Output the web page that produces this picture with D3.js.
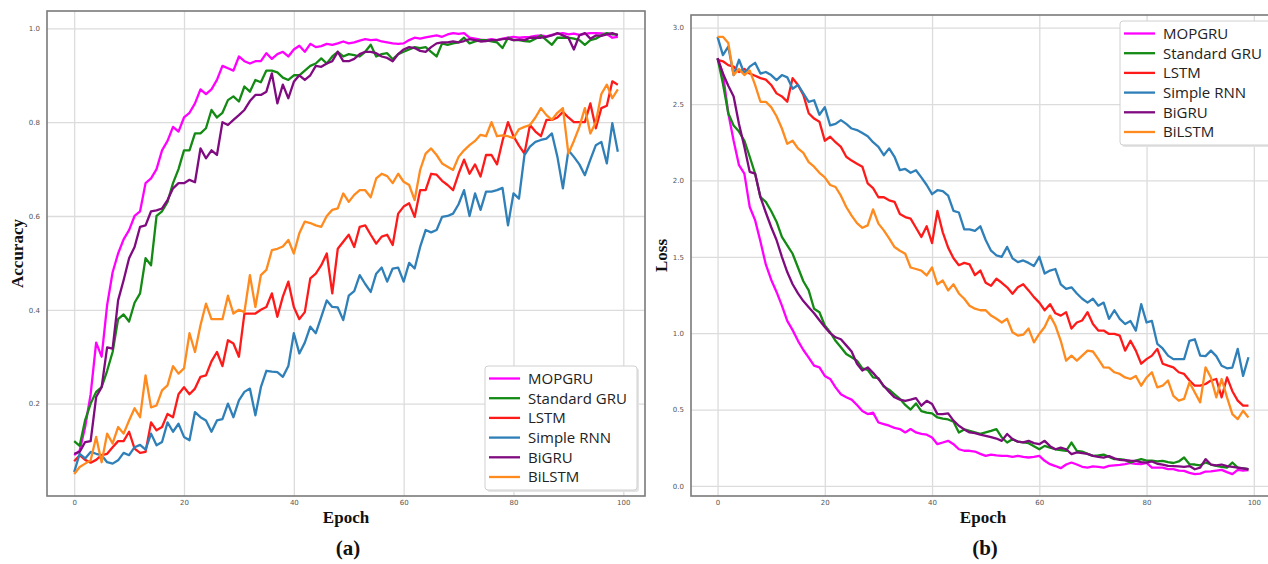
<!DOCTYPE html>
<html>
<head>
<meta charset="utf-8">
<style>
body { margin: 0; background: #fff; }
.grid line { stroke: #dcdcdc; stroke-width: 1.3px; }
.grid path { display: none; }
.ticks path, .ticks line { display: none; }
.ticks text { fill: #555; font-size: 7px; font-family: "DejaVu Sans", sans-serif; }
.frame { fill: none; stroke: #7a7a7a; stroke-width: 1.6px; }
.line { fill: none; stroke-width: 2.3px; stroke-linejoin: round; }
.axis-title { font-family: "Liberation Serif", serif; font-weight: bold; font-size: 17px; fill: #111; }
.panel-label { font-family: "Liberation Serif", serif; font-weight: bold; font-size: 21px; fill: #111; }
.legend-box { fill: #fff; stroke: #d0d0d0; stroke-width: 1px; }
.legend-shadow { fill: #e4e4e4; }
.legend text { font-family: "Open Sans", sans-serif; font-size: 15px; fill: #222; }
</style>
</head>
<body>
<svg width="1268" height="564"></svg>
<script src="https://d3js.org/d3.v7.min.js"></script>
<script>

// model names and colours
var models = ["MOPGRU", "Standard GRU", "LSTM", "Simple RNN", "BiGRU", "BiLSTM"];
var colors = ["#ff00ff", "#138a13", "#ff1a1a", "#2f7fb8", "#800a80", "#ff8a1e"];

var xTicks = [0, 20, 40, 60, 80, 100];
var accTicks = [0.2, 0.4, 0.6, 0.8, 1.0];
var lossTicks = [0.0, 0.5, 1.0, 1.5, 2.0, 2.5, 3.0];

// (a) accuracy per epoch, 0..99
var accMOPGRU = [0.09,0.10,0.15,0.22,0.33,0.30,0.41,0.48,0.52,0.55,
  0.57,0.60,0.61,0.67,0.68,0.70,0.74,0.76,0.79,0.78,
  0.81,0.82,0.84,0.87,0.86,0.87,0.89,0.92,0.915,0.91,
  0.94,0.93,0.925,0.93,0.93,0.947,0.935,0.945,0.95,0.94,
  0.955,0.963,0.95,0.967,0.96,0.962,0.967,0.965,0.968,0.972,
  0.968,0.97,0.974,0.977,0.975,0.976,0.972,0.97,0.968,0.967,
  0.968,0.975,0.98,0.978,0.981,0.983,0.985,0.982,0.987,0.99,
  0.988,0.99,0.98,0.978,0.976,0.975,0.977,0.975,0.978,0.98,
  0.982,0.98,0.981,0.982,0.984,0.985,0.983,0.986,0.988,0.99,
  0.987,0.989,0.986,0.988,0.99,0.99,0.989,0.988,0.98,0.982];

var accGRU = [0.12,0.11,0.165,0.20,0.225,0.235,0.27,0.31,0.38,0.39,
  0.375,0.415,0.435,0.51,0.495,0.60,0.61,0.63,0.67,0.70,
  0.74,0.74,0.776,0.776,0.787,0.826,0.81,0.82,0.847,0.855,
  0.844,0.876,0.865,0.89,0.885,0.91,0.91,0.906,0.895,0.89,
  0.9,0.9,0.91,0.92,0.925,0.936,0.925,0.94,0.95,0.94,
  0.945,0.943,0.94,0.95,0.965,0.94,0.945,0.947,0.934,0.945,
  0.95,0.955,0.96,0.958,0.96,0.95,0.94,0.968,0.965,0.968,
  0.97,0.98,0.968,0.972,0.975,0.975,0.972,0.97,0.958,0.98,
  0.975,0.975,0.973,0.972,0.978,0.985,0.975,0.965,0.98,0.98,
  0.98,0.978,0.975,0.965,0.975,0.978,0.985,0.99,0.987,0.987];

var accLSTM = [0.077,0.09,0.08,0.074,0.08,0.09,0.093,0.107,0.12,0.12,
  0.14,0.104,0.095,0.097,0.16,0.143,0.15,0.178,0.171,0.22,
  0.235,0.22,0.232,0.257,0.26,0.29,0.31,0.28,0.335,0.328,
  0.30,0.392,0.392,0.392,0.40,0.406,0.435,0.385,0.428,0.46,
  0.406,0.38,0.395,0.467,0.477,0.495,0.52,0.435,0.53,0.545,
  0.56,0.534,0.577,0.58,0.56,0.541,0.556,0.56,0.538,0.605,
  0.62,0.627,0.598,0.655,0.655,0.69,0.688,0.675,0.666,0.655,
  0.69,0.72,0.69,0.71,0.684,0.73,0.73,0.71,0.76,0.80,
  0.77,0.75,0.733,0.794,0.78,0.77,0.805,0.805,0.81,0.822,
  0.81,0.80,0.80,0.80,0.84,0.787,0.83,0.835,0.887,0.88];

var accRNN = [0.054,0.093,0.083,0.097,0.093,0.09,0.075,0.072,0.079,0.095,
  0.09,0.107,0.112,0.102,0.136,0.111,0.118,0.16,0.14,0.157,
  0.129,0.122,0.182,0.171,0.164,0.14,0.164,0.167,0.2,0.171,
  0.207,0.225,0.232,0.175,0.235,0.27,0.268,0.267,0.257,0.28,
  0.35,0.307,0.33,0.364,0.35,0.385,0.42,0.406,0.405,0.378,
  0.43,0.44,0.474,0.455,0.438,0.477,0.49,0.46,0.488,0.49,
  0.46,0.50,0.488,0.534,0.57,0.565,0.57,0.598,0.60,0.605,
  0.625,0.655,0.60,0.648,0.613,0.652,0.652,0.655,0.66,0.58,
  0.648,0.637,0.73,0.748,0.758,0.762,0.765,0.776,0.726,0.659,
  0.74,0.726,0.71,0.687,0.72,0.751,0.758,0.712,0.798,0.737];

var accBiGRU = [0.093,0.097,0.118,0.12,0.214,0.235,0.32,0.317,0.42,0.463,
  0.51,0.534,0.577,0.58,0.61,0.612,0.616,0.634,0.659,0.67,
  0.67,0.677,0.672,0.744,0.723,0.74,0.73,0.80,0.794,0.805,
  0.815,0.826,0.845,0.858,0.858,0.865,0.904,0.84,0.88,0.851,
  0.886,0.9,0.89,0.9,0.92,0.918,0.925,0.93,0.95,0.93,
  0.93,0.935,0.945,0.95,0.95,0.947,0.94,0.937,0.93,0.945,
  0.955,0.96,0.958,0.952,0.95,0.96,0.968,0.97,0.97,0.972,
  0.97,0.973,0.977,0.975,0.972,0.973,0.975,0.975,0.977,0.978,
  0.975,0.976,0.975,0.98,0.98,0.98,0.982,0.985,0.99,0.985,
  0.98,0.955,0.985,0.99,0.978,0.985,0.984,0.987,0.99,0.985];

var accBiLSTM = [0.05,0.065,0.072,0.079,0.129,0.075,0.136,0.115,0.15,0.136,
  0.164,0.19,0.171,0.26,0.192,0.196,0.228,0.239,0.28,0.264,
  0.275,0.35,0.31,0.367,0.413,0.38,0.38,0.38,0.43,0.392,
  0.40,0.395,0.474,0.406,0.474,0.485,0.527,0.53,0.535,0.549,
  0.52,0.563,0.588,0.585,0.58,0.577,0.6,0.613,0.616,0.648,
  0.63,0.645,0.655,0.655,0.64,0.68,0.69,0.685,0.67,0.69,
  0.673,0.666,0.634,0.698,0.733,0.744,0.73,0.712,0.705,0.698,
  0.726,0.74,0.751,0.76,0.773,0.77,0.80,0.77,0.772,0.77,
  0.766,0.785,0.79,0.794,0.81,0.83,0.815,0.805,0.82,0.83,
  0.733,0.76,0.79,0.83,0.776,0.80,0.86,0.88,0.851,0.87];

// (b) loss per epoch, 0..99
var lossMOPGRU = [2.80,2.70,2.44,2.26,2.10,2.045,1.826,1.74,1.6,1.45,
  1.35,1.27,1.18,1.08,1.02,0.95,0.89,0.84,0.787,0.776,
  0.72,0.70,0.645,0.60,0.58,0.565,0.53,0.49,0.47,0.48,
  0.415,0.405,0.394,0.38,0.372,0.35,0.372,0.35,0.34,0.335,
  0.317,0.273,0.284,0.295,0.273,0.24,0.23,0.23,0.225,0.21,
  0.197,0.205,0.2,0.197,0.197,0.19,0.197,0.19,0.186,0.19,
  0.197,0.164,0.142,0.13,0.116,0.14,0.153,0.14,0.125,0.12,
  0.128,0.125,0.12,0.131,0.135,0.138,0.142,0.15,0.145,0.142,
  0.15,0.12,0.12,0.12,0.11,0.11,0.1,0.098,0.085,0.077,
  0.08,0.094,0.095,0.1,0.105,0.09,0.077,0.105,0.1,0.103];

var lossGRU = [2.80,2.635,2.44,2.36,2.32,2.26,2.155,2.045,1.89,1.86,
  1.80,1.73,1.63,1.575,1.52,1.43,1.34,1.28,1.16,1.137,
  1.05,1.006,0.95,0.908,0.864,0.842,0.82,0.77,0.76,0.71,
  0.705,0.65,0.63,0.60,0.57,0.53,0.50,0.54,0.49,0.48,
  0.475,0.448,0.44,0.435,0.42,0.35,0.37,0.36,0.35,0.34,
  0.35,0.36,0.372,0.317,0.284,0.306,0.29,0.285,0.28,0.26,
  0.24,0.262,0.25,0.24,0.235,0.23,0.284,0.23,0.225,0.21,
  0.197,0.2,0.205,0.19,0.175,0.175,0.17,0.153,0.165,0.175,
  0.165,0.165,0.16,0.164,0.155,0.15,0.16,0.186,0.142,0.14,
  0.135,0.153,0.14,0.131,0.125,0.12,0.153,0.12,0.115,0.109];

var lossLSTM = [2.79,2.78,2.755,2.745,2.71,2.73,2.70,2.685,2.67,2.66,
  2.625,2.57,2.55,2.515,2.67,2.625,2.56,2.44,2.405,2.385,
  2.26,2.286,2.25,2.22,2.155,2.13,2.11,2.09,1.98,1.95,
  1.89,1.89,1.87,1.86,1.78,1.76,1.75,1.69,1.63,1.70,
  1.59,1.80,1.66,1.56,1.49,1.445,1.46,1.45,1.38,1.41,
  1.33,1.31,1.356,1.33,1.30,1.258,1.30,1.32,1.28,1.236,
  1.20,1.15,1.19,1.13,1.115,1.137,1.03,1.07,1.083,1.137,
  1.06,1.017,1.017,0.995,0.995,0.984,0.886,0.95,0.886,0.80,
  0.83,0.853,0.897,0.80,0.787,0.776,0.744,0.733,0.69,0.656,
  0.656,0.667,0.69,0.70,0.58,0.71,0.62,0.558,0.525,0.525];

var lossRNN = [2.94,2.82,2.876,2.69,2.79,2.70,2.745,2.77,2.70,2.71,
  2.69,2.657,2.69,2.675,2.60,2.625,2.57,2.515,2.525,2.43,
  2.48,2.36,2.37,2.395,2.37,2.34,2.33,2.31,2.29,2.25,
  2.22,2.165,2.21,2.155,2.067,2.075,2.05,2.067,2.02,1.97,
  1.91,1.936,1.93,1.90,1.80,1.79,1.68,1.68,1.67,1.70,
  1.61,1.54,1.51,1.50,1.565,1.49,1.465,1.476,1.46,1.44,
  1.50,1.39,1.41,1.42,1.32,1.29,1.30,1.26,1.225,1.20,
  1.225,1.18,1.20,1.094,1.15,1.094,1.06,1.08,1.017,1.19,
  1.07,1.08,0.93,0.90,0.853,0.83,0.83,0.83,0.95,0.96,
  0.853,0.85,0.886,0.85,0.787,0.77,0.775,0.897,0.72,0.842];

var lossBiGRU = [2.80,2.70,2.62,2.55,2.37,2.22,2.056,2.045,1.89,1.79,
  1.695,1.61,1.50,1.40,1.32,1.26,1.21,1.17,1.13,1.085,
  1.04,1.00,0.973,0.96,0.92,0.88,0.80,0.755,0.776,0.74,
  0.70,0.655,0.615,0.58,0.565,0.557,0.565,0.575,0.525,0.557,
  0.536,0.47,0.47,0.475,0.427,0.394,0.37,0.35,0.345,0.335,
  0.328,0.32,0.31,0.295,0.34,0.306,0.29,0.285,0.295,0.28,
  0.273,0.295,0.26,0.24,0.25,0.24,0.208,0.22,0.215,0.21,
  0.197,0.19,0.185,0.195,0.18,0.17,0.168,0.165,0.164,0.155,
  0.152,0.16,0.145,0.14,0.131,0.13,0.128,0.125,0.13,0.109,
  0.12,0.175,0.14,0.135,0.14,0.13,0.125,0.12,0.115,0.109];

var lossBiLSTM = [2.94,2.94,2.9,2.69,2.73,2.69,2.72,2.625,2.515,2.515,
  2.48,2.42,2.34,2.24,2.26,2.21,2.18,2.12,2.09,2.05,
  2.02,1.97,1.957,1.90,1.826,1.77,1.72,1.69,1.706,1.81,
  1.717,1.673,1.62,1.564,1.54,1.52,1.43,1.42,1.41,1.378,
  1.43,1.32,1.345,1.28,1.32,1.26,1.225,1.18,1.16,1.15,
  1.15,1.115,1.094,1.07,1.094,1.006,0.984,0.99,1.03,0.94,
  0.995,1.04,1.115,1.05,0.95,0.82,0.853,0.82,0.853,0.886,
  0.88,0.83,0.776,0.775,0.744,0.733,0.71,0.70,0.72,0.656,
  0.71,0.744,0.645,0.656,0.69,0.59,0.558,0.57,0.678,0.612,
  0.547,0.776,0.71,0.58,0.70,0.58,0.47,0.437,0.492,0.448];

var epochs = d3.range(accMOPGRU.length);

var svg = d3.select("svg");

function drawPanel(p) {
  var g = svg.append("g");
  var xPad = (d3.max(epochs) - d3.min(epochs)) * 0.05;
  var all = d3.merge(p.series);
  var lo = d3.min(all), hi = d3.max(all), yPad = (hi - lo) * 0.05;

  var x = d3.scaleLinear()
    .domain([d3.min(epochs) - xPad, d3.max(epochs) + xPad])
    .range([p.left, p.right]);
  var y = d3.scaleLinear()
    .domain([lo - yPad, hi + yPad])
    .range([p.bottom, p.top]);

  // grid
  g.append("g").attr("class", "grid")
    .attr("transform", "translate(0," + p.bottom + ")")
    .call(d3.axisBottom(x).tickValues(xTicks).tickSize(-(p.bottom - p.top)).tickFormat(""));
  g.append("g").attr("class", "grid")
    .attr("transform", "translate(" + p.left + ",0)")
    .call(d3.axisLeft(y).tickValues(p.yTicks).tickSize(-(p.right - p.left)).tickFormat(""));

  // tick labels
  g.append("g").attr("class", "ticks")
    .attr("transform", "translate(0," + p.bottom + ")")
    .call(d3.axisBottom(x).tickValues(xTicks).tickSize(0).tickPadding(4).tickFormat(d3.format("d")));
  g.append("g").attr("class", "ticks")
    .attr("transform", "translate(" + p.left + ",0)")
    .call(d3.axisLeft(y).tickValues(p.yTicks).tickSize(0).tickPadding(7).tickFormat(d3.format(".1f")));

  // lines
  var line = d3.line()
    .x(function(d, i) { return x(epochs[i]); })
    .y(function(d) { return y(d); });
  p.series.forEach(function(s, k) {
    g.append("path")
      .attr("class", "line")
      .attr("stroke", colors[k])
      .attr("d", line(s));
  });

  // frame
  g.append("rect").attr("class", "frame")
    .attr("x", p.left).attr("y", p.top)
    .attr("width", p.right - p.left).attr("height", p.bottom - p.top);

  // titles
  var cx = (p.left + p.right) / 2;
  g.append("text").attr("class", "axis-title")
    .attr("text-anchor", "middle")
    .attr("transform", "translate(" + (p.left - 24) + "," + ((p.top + p.bottom) / 2) + ") rotate(-90)")
    .text(p.yLabel);
  g.append("text").attr("class", "axis-title")
    .attr("text-anchor", "middle")
    .attr("x", cx).attr("y", p.bottom + 27)
    .text("Epoch");
  g.append("text").attr("class", "panel-label")
    .attr("text-anchor", "middle")
    .attr("x", cx + 2).attr("y", p.bottom + 59)
    .text(p.panel);

  // legend
  var lg = g.append("g").attr("class", "legend")
    .attr("transform", "translate(" + p.legend[0] + "," + p.legend[1] + ")");
  lg.append("rect").attr("class", "legend-shadow")
    .attr("x", 2).attr("y", 2).attr("width", 152).attr("height", 124).attr("rx", 3);
  lg.append("rect").attr("class", "legend-box")
    .attr("width", 152).attr("height", 124).attr("rx", 3);
  var item = lg.selectAll(".item").data(models).enter().append("g")
    .attr("class", "item")
    .attr("transform", function(d, i) { return "translate(0," + (12.5 + i * 19.7) + ")"; });
  item.append("line")
    .attr("x1", 4).attr("x2", 35)
    .attr("stroke", function(d, i) { return colors[i]; })
    .attr("stroke-width", 2.3);
  item.append("text")
    .attr("x", 43).attr("dy", "0.36em")
    .text(function(d) { return d; });
}

drawPanel({
  left: 47, right: 645, top: 11, bottom: 496,
  series: [accMOPGRU, accGRU, accLSTM, accRNN, accBiGRU, accBiLSTM],
  yTicks: accTicks, yLabel: "Accuracy", panel: "(a)",
  legend: [485, 366]
});

drawPanel({
  left: 691, right: 1275, top: 15, bottom: 496,
  series: [lossMOPGRU, lossGRU, lossLSTM, lossRNN, lossBiGRU, lossBiLSTM],
  yTicks: lossTicks, yLabel: "Loss", panel: "(b)",
  legend: [1120, 21]
});

</script>
</body>
</html>
